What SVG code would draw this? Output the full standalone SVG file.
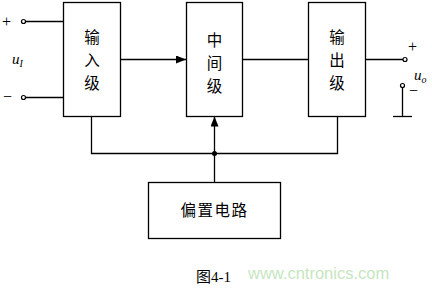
<svg xmlns="http://www.w3.org/2000/svg" width="432" height="288" viewBox="0 0 432 288">
<defs>
<style>
.box{fill:#fff;stroke:#000;stroke-width:1.3}
.ln{fill:none;stroke:#000;stroke-width:1.3}
.term{fill:#fff;stroke:#000;stroke-width:1.2}
.cn{font-family:"Noto Sans CJK SC","Noto Sans CJK JP",sans-serif;font-size:15.5px;fill:#000;text-anchor:middle}
.sym{font-family:"Liberation Serif",serif;font-size:16px;fill:#000}
.var{font-family:"Liberation Serif",serif;font-style:italic;fill:#000}
</style>
<marker id="arr" markerWidth="10" markerHeight="8" refX="10" refY="4" orient="auto" markerUnits="userSpaceOnUse">
<path d="M0,0 L10,4 L0,8 Z" fill="#000"/>
</marker>
</defs>
<rect width="432" height="288" fill="#fff"/>
<g id="connectors">
<line class="ln" x1="25" y1="21.5" x2="63" y2="21.5"/>
<line class="ln" x1="25" y1="97.5" x2="63" y2="97.5"/>
<line class="ln" x1="120" y1="59.5" x2="186" y2="59.5" marker-end="url(#arr)"/>
<line class="ln" x1="242" y1="59.5" x2="308" y2="59.5"/>
<line class="ln" x1="365" y1="59.5" x2="403" y2="59.5"/>
<polyline class="ln" points="91.5,116 91.5,153.5 337.5,153.5 337.5,116"/>
<line class="ln" x1="214.5" y1="182" x2="214.5" y2="116.5" marker-end="url(#arr)"/>
<circle cx="214.5" cy="153.5" r="2.5" fill="#000"/>
<line class="ln" x1="402.5" y1="87.5" x2="402.5" y2="116.5"/>
<line class="ln" x1="393" y1="116.5" x2="412" y2="116.5"/>
</g>
<g id="terminals">
<circle class="term" cx="23.5" cy="21.5" r="2"/>
<circle class="term" cx="23.5" cy="97.5" r="2"/>
<circle class="term" cx="405" cy="59.5" r="2"/>
<circle class="term" cx="402.5" cy="85.5" r="2"/>
<text class="sym" x="2" y="27">+</text>
<text class="sym" x="3" y="102">−</text>
<text class="var" x="12" y="64" font-size="15">u<tspan font-size="10" dy="3">I</tspan></text>
<text class="sym" x="408" y="52">+</text>
<text class="sym" x="409" y="96">−</text>
<text class="var" x="414" y="80" font-size="15">u<tspan font-size="10" dy="3">o</tspan></text>
</g>
<g id="input">
<rect class="box" x="63.5" y="2.5" width="57" height="114"/>
<text class="cn" x="92" y="43">输</text>
<text class="cn" x="92" y="66">入</text>
<text class="cn" x="92" y="89">级</text>
</g>
<g id="middle">
<rect class="box" x="186.5" y="2.5" width="56" height="114"/>
<text class="cn" x="214.5" y="46">中</text>
<text class="cn" x="214.5" y="69">间</text>
<text class="cn" x="214.5" y="92">级</text>
</g>
<g id="output">
<rect class="box" x="308.5" y="2.5" width="57" height="114"/>
<text class="cn" x="337" y="43">输</text>
<text class="cn" x="337" y="66">出</text>
<text class="cn" x="337" y="89">级</text>
</g>
<g id="bias">
<rect class="box" x="148.5" y="182.5" width="132" height="56"/>
<text class="cn" x="214.5" y="216" font-size="17" letter-spacing="1.5">偏置电路</text>
</g>
<text x="196" y="282" font-family="'Noto Sans CJK SC',serif" font-size="15" fill="#000">图<tspan font-family="'Liberation Serif',serif">4-1</tspan></text>
<text x="248" y="279" font-family="'Liberation Sans',sans-serif" font-size="16.5" fill="#c6e6bf">www.cntronics.com</text>
</svg>
